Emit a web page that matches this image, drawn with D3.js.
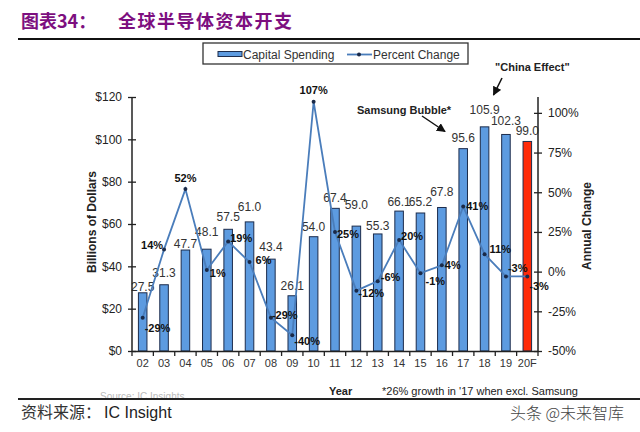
<!DOCTYPE html>
<html><head><meta charset="utf-8">
<script src="https://cdn.jsdelivr.net/npm/d3@7/dist/d3.min.js"></script>
<style>
body{margin:0;background:#fff;}
svg{display:block;font-family:"Liberation Sans",Arial,sans-serif;}
</style></head>
<body>
<script>
// ---- data ----
const years = ["02","03","04","05","06","07","08","09","10","11","12","13","14","15","16","17","18","19","20F"];
const capitalSpending = [27.5,31.3,47.7,48.1,57.5,61.0,43.4,26.1,54.0,67.4,59.0,55.3,66.1,65.2,67.8,95.6,105.9,102.3,99.0];
const percentChange = [-29,14,52,1,19,6,-29,-40,107,25,-12,-6,20,-1,4,41,11,-3,-3];
const leftTicks = [0,20,40,60,80,100,120];
const rightTicks = [-50,-25,0,25,50,75,100];

// ---- layout (label placement only) ----
const valueGap = [6,12,6,17,12,15,12,10,10,10,21,8,9,11,15,11,17,13,10];
const pctOffsets = [[2,10,"start"],[-1,-4,"end"],[0,-11,"middle"],[3,3,"start"],[2,-3,"start"],[6,-2,"start"],
  [1,-3,"start"],[2,6,"start"],[0,-12,"middle"],[2,2,"start"],[2,2,"start"],[3,-4,"start"],[2,-4,"start"],
  [5,8,"start"],[3,0,"start"],[3,-1,"start"],[5,-5,"start"],[2,-8,"start"],[2,10,"start"]];

const W=640,H=432;
const svg=d3.select("body").append("svg").attr("width",W).attr("height",H);
const defs=svg.append("defs");
defs.append("marker").attr("id","arr").attr("viewBox","0 0 10 10").attr("refX",9).attr("refY",5)
  .attr("markerWidth",6).attr("markerHeight",6).attr("orient","auto-start-reverse")
  .append("path").attr("d","M0,0L10,5L0,10z").attr("fill","#111");
defs.append("clipPath").attr("id","srcclip").append("rect").attr("x",0).attr("y",380).attr("width",640).attr("height",18);

// header
svg.append("text").attr("x",21).attr("y",28).attr("fill","#7d0f80")
  .attr("font-family","'Noto Sans CJK SC',sans-serif").attr("font-weight","bold").attr("font-size",18)
  .text("图表34：");
svg.append("text").attr("x",118).attr("y",28).attr("fill","#7d0f80").attr("letter-spacing",1.5)
  .attr("font-family","'Noto Sans CJK SC',sans-serif").attr("font-weight","bold").attr("font-size",18)
  .text("全球半导体资本开支");
svg.append("line").attr("x1",18).attr("x2",640).attr("y1",39).attr("y2",39).attr("stroke","#111").attr("stroke-width",2);

const x=d3.scaleBand().domain(years).range([132,538]).paddingInner(0.6).paddingOuter(0.3);
const yL=d3.scaleLinear().domain([0,120]).range([351,97]);
const yR=d3.scaleLinear().domain([-50,110]).range([351,97]);
const cx=d=>x(d)+x.bandwidth()/2;

const lineColor="#4a7dbb", barFill="#5d9be0", barStroke="#1c2c4c";

// bars
svg.append("g").selectAll("rect").data(years).join("rect")
  .attr("x",d=>x(d)).attr("width",x.bandwidth())
  .attr("y",(d,i)=>yL(capitalSpending[i])).attr("height",(d,i)=>yL(0)-yL(capitalSpending[i]))
  .attr("fill",(d,i)=>i===years.length-1?"#ff2a08":barFill)
  .attr("stroke",barStroke).attr("stroke-width",1);

// bar value labels
svg.append("g").selectAll("text").data(years).join("text")
  .attr("x",d=>cx(d)).attr("y",(d,i)=>yL(capitalSpending[i])-valueGap[i]+4)
  .attr("text-anchor","middle").attr("font-size",12).attr("fill","#333")
  .text((d,i)=>capitalSpending[i].toFixed(1));

// left axis
const gL=svg.append("g").attr("transform","translate(132,0)")
  .call(d3.axisLeft(yL).tickValues(leftTicks).tickSize(4).tickPadding(6).tickFormat(d=>"$"+d));
gL.select(".domain").remove();
gL.selectAll(".tick line").attr("x1",4).attr("stroke","#222").attr("stroke-width",1.3);
gL.selectAll(".tick text").attr("font-size",12).attr("fill","#222").attr("font-family","'Liberation Sans',Arial,sans-serif");
svg.append("line").attr("x1",132).attr("x2",132).attr("y1",97).attr("y2",351).attr("stroke","#222").attr("stroke-width",1.5);

// right axis
const gR=svg.append("g").attr("transform","translate(538,0)")
  .call(d3.axisRight(yR).tickValues(rightTicks).tickSize(4).tickPadding(6).tickFormat(d=>d+"%"));
gR.select(".domain").remove();
gR.selectAll(".tick line").attr("x1",-4).attr("stroke","#222").attr("stroke-width",1.3);
gR.selectAll(".tick text").attr("font-size",12).attr("fill","#222").attr("font-family","'Liberation Sans',Arial,sans-serif");
svg.append("line").attr("x1",538).attr("x2",538).attr("y1",97).attr("y2",351).attr("stroke","#222").attr("stroke-width",1.5);

// bottom axis
const gB=svg.append("g").attr("transform","translate(0,351)")
  .call(d3.axisBottom(x).tickSize(0).tickPadding(8));
gB.select(".domain").attr("stroke","#222").attr("stroke-width",1.5);
gB.selectAll(".tick text").attr("font-size",11).attr("fill","#333").attr("font-family","'Liberation Sans',Arial,sans-serif");
svg.append("g").selectAll("line").data(d3.range(years.length+1)).join("line")
  .attr("x1",i=>x.range()[0]+i*x.step()).attr("x2",i=>x.range()[0]+i*x.step())
  .attr("y1",351).attr("y2",356).attr("stroke","#222").attr("stroke-width",1.3);

// percent line
const line=d3.line().x((d,i)=>cx(years[i])).y(d=>yR(d));
svg.append("path").datum(percentChange).attr("d",line).attr("fill","none")
  .attr("stroke",lineColor).attr("stroke-width",1.8);
svg.append("g").selectAll("circle").data(percentChange).join("circle")
  .attr("cx",(d,i)=>cx(years[i])).attr("cy",d=>yR(d)).attr("r",2).attr("fill","#1a2a48");
svg.append("g").selectAll("text").data(percentChange).join("text")
  .attr("x",(d,i)=>cx(years[i])+pctOffsets[i][0]).attr("y",(d,i)=>yR(d)+pctOffsets[i][1]+4)
  .attr("text-anchor",(d,i)=>pctOffsets[i][2]).attr("font-size",11).attr("font-weight","bold").attr("fill","#111")
  .text(d=>d+"%");

// axis titles
svg.append("text").attr("transform","translate(96,222) rotate(-90)").attr("text-anchor","middle")
  .attr("font-size",12).attr("font-weight","bold").attr("fill","#222").text("Billions of Dollars");
svg.append("text").attr("transform","translate(591,226) rotate(-90)").attr("text-anchor","middle")
  .attr("font-size",12).attr("font-weight","bold").attr("fill","#222").text("Annual Change");

// legend
const lg=svg.append("g");
lg.append("rect").attr("x",203).attr("y",43).attr("width",265).attr("height",21).attr("fill","#fff").attr("stroke","#333").attr("stroke-width",1.3);
lg.append("rect").attr("x",218).attr("y",51.5).attr("width",24).attr("height",5).attr("fill",barFill).attr("stroke",barStroke).attr("stroke-width",1);
lg.append("text").attr("x",243).attr("y",59).attr("font-size",12).attr("fill","#333").text("Capital Spending");
lg.append("line").attr("x1",347).attr("x2",372).attr("y1",54.5).attr("y2",54.5).attr("stroke",lineColor).attr("stroke-width",1.8);
lg.append("circle").attr("cx",359).attr("cy",54.5).attr("r",2).attr("fill","#1a2a48");
lg.append("text").attr("x",373).attr("y",59).attr("font-size",12).attr("fill","#333").text("Percent Change");

// annotations
svg.append("text").attr("x",357).attr("y",114).attr("font-size",11).attr("font-weight","bold").attr("fill","#222").text("Samsung Bubble*");
svg.append("line").attr("x1",422).attr("y1",116).attr("x2",445).attr("y2",131.5).attr("stroke","#111").attr("stroke-width",1.5).attr("marker-end","url(#arr)");
svg.append("text").attr("x",495).attr("y",71).attr("font-size",11).attr("font-weight","bold").attr("fill","#222").text("\"China Effect\"");
svg.append("line").attr("x1",502).attr("y1",78).attr("x2",493.5).attr("y2",95).attr("stroke","#111").attr("stroke-width",1.5).attr("marker-end","url(#arr)");

// bottom notes
svg.append("text").attr("x",329).attr("y",395).attr("font-size",11).attr("font-weight","bold").attr("fill","#222").text("Year");
svg.append("text").attr("x",382).attr("y",395).attr("font-size",11).attr("fill","#222").text("*26% growth in '17 when excl. Samsung");
svg.append("text").attr("x",100).attr("y",400).attr("font-size",10).attr("fill","#bbb").attr("clip-path","url(#srcclip)").text("Source: IC Insights");

// footer
svg.append("line").attr("x1",18).attr("x2",640).attr("y1",399).attr("y2",399).attr("stroke","#222").attr("stroke-width",2);
svg.append("text").attr("x",21).attr("y",418).attr("font-size",16).attr("fill","#333")
  .attr("font-family","'Noto Sans CJK SC',sans-serif").text("资料来源：");
svg.append("text").attr("x",104).attr("y",418).attr("font-size",16).attr("fill","#222").text("IC Insight");
svg.append("text").attr("x",510).attr("y",419).attr("font-size",16).attr("fill","#444")
  .attr("font-family","'Noto Sans CJK SC',sans-serif").attr("font-weight","300").text("头条 @未来智库");
</script>
</body></html>
